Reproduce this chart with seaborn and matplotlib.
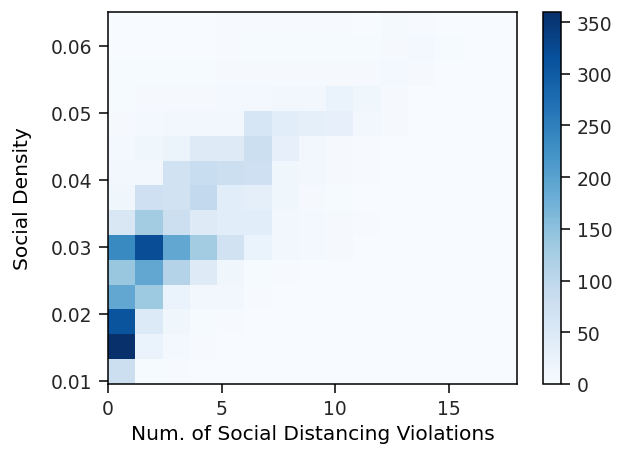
import numpy as np
import matplotlib
matplotlib.use('Agg')
import matplotlib.pyplot as plt
import seaborn as sns

# 分箱边界 (15 x 15)
x_edges = np.linspace(0, 18, 16)
y_edges = np.linspace(0.0095, 0.0651, 16)

# 每个格子的计数, 从下往上一行, 从左往右一列
counts = np.array([
    [80, 3, 2, 1, 1, 0, 0, 0, 0, 0, 0, 0, 0, 0, 0],
    [360, 25, 8, 2, 1, 0, 0, 0, 0, 0, 0, 0, 0, 0, 0],
    [310, 50, 15, 4, 2, 1, 0, 0, 0, 0, 0, 0, 0, 0, 0],
    [190, 135, 25, 10, 10, 2, 1, 0, 0, 0, 0, 0, 0, 0, 0],
    [140, 190, 110, 45, 15, 3, 2, 1, 0, 0, 0, 0, 0, 0, 0],
    [235, 320, 190, 130, 70, 25, 10, 8, 5, 1, 0, 0, 0, 0, 0],
    [55, 130, 80, 45, 40, 40, 12, 8, 5, 2, 1, 0, 0, 0, 0],
    [15, 75, 70, 95, 40, 35, 15, 5, 3, 1, 0, 0, 0, 0, 0],
    [10, 12, 70, 85, 80, 75, 15, 10, 5, 2, 1, 0, 0, 0, 0],
    [8, 15, 20, 45, 45, 80, 30, 10, 5, 2, 1, 0, 0, 0, 0],
    [5, 8, 12, 12, 12, 60, 40, 35, 30, 10, 5, 1, 0, 0, 0],
    [3, 5, 5, 5, 8, 8, 10, 10, 25, 15, 5, 1, 0, 0, 0],
    [3, 3, 3, 3, 5, 5, 5, 5, 5, 5, 8, 5, 1, 0, 0],
    [1, 1, 1, 1, 2, 3, 3, 3, 3, 3, 5, 8, 4, 0, 0],
    [1, 1, 1, 1, 2, 2, 2, 2, 2, 1, 6, 2, 1, 0, 0],
])

x_centers = (x_edges[:-1] + x_edges[1:]) / 2
y_centers = (y_edges[:-1] + y_edges[1:]) / 2
xx, yy = np.meshgrid(x_centers, y_centers)

plt.rcParams['text.color'] = '#262626'
plt.rcParams['xtick.labelcolor'] = '#262626'
plt.rcParams['ytick.labelcolor'] = '#262626'

fig = plt.figure(figsize=(6.17, 4.56), dpi=100)
ax = fig.add_axes([0.175, 0.156, 0.663, 0.816])
cax = fig.add_axes([0.880, 0.156, 0.030, 0.816])

sns.histplot(x=xx.ravel(), y=yy.ravel(), weights=counts.ravel(),
             bins=[x_edges, y_edges], thresh=None, cmap='Blues',
             vmin=0, vmax=360, cbar=True, cbar_ax=cax, ax=ax)

ax.set_xlim(0, 18)
ax.set_ylim(y_edges[0], y_edges[-1])
ax.set_xticks([0, 5, 10, 15])
ax.set_yticks([0.01, 0.02, 0.03, 0.04, 0.05, 0.06])
ax.set_xlabel('Num. of Social Distancing Violations', fontsize=14.5, labelpad=4)
ax.set_ylabel('Social Density', fontsize=14.5, labelpad=14)
ax.tick_params(labelsize=13.5, length=6.5, width=1.1, pad=4.5)
cax.set_yticks(np.arange(0, 351, 50))
cax.tick_params(labelsize=13.5, length=6.5, width=1.1, pad=4.5)
for sp in list(ax.spines.values()) + list(cax.spines.values()):
    sp.set_linewidth(1.1)

plt.savefig('out.png', dpi=100)
